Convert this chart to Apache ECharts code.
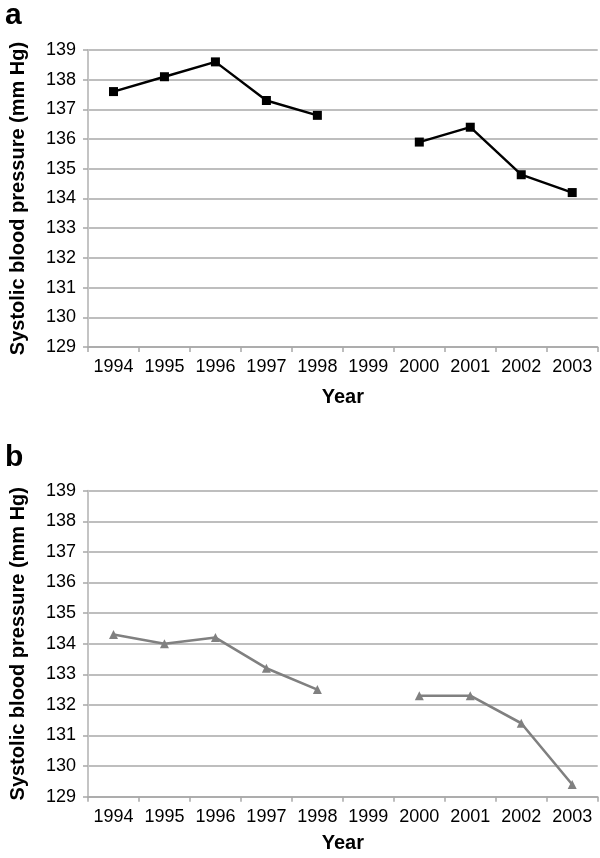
<!DOCTYPE html>
<html>
<head>
<meta charset="utf-8">
<script src="https://cdn.jsdelivr.net/npm/echarts@6/dist/echarts.min.js"></script>
<style>
html,body{margin:0;padding:0;background:#fff;}
#c{width:600px;height:858px;}
</style>
</head>
<body>
<div id="c"></div>
<script>
const years = ['1994','1995','1996','1997','1998','1999','2000','2001','2002','2003'];
const seriesA = [137.6, 138.1, 138.6, 137.3, 136.8, null, 135.9, 136.4, 134.8, 134.2];
const seriesB = [134.3, 134.0, 134.2, 133.2, 132.5, null, 132.3, 132.3, 131.4, 129.4];
const yMin = 129, yMax = 139, yStep = 1;
const yTitle = 'Systolic blood pressure (mm Hg)';
const xTitle = 'Year';
const panelLabels = ['a', 'b'];

const FONT = 'Liberation Sans, Arial, Helvetica, sans-serif';
const chart = echarts.init(document.getElementById('c'), null, {renderer: 'canvas'});

function xAxis(idx, gap) {
  return {
    type: 'category', gridIndex: idx, data: years, boundaryGap: true,
    name: xTitle, nameLocation: 'middle', nameGap: gap,
    nameTextStyle: {fontFamily: FONT, fontWeight: 'bold', fontSize: 20, color: '#000'},
    axisLine: {show: true, lineStyle: {color: '#a8a8a8', width: 1.5}},
    axisTick: {show: true, alignWithLabel: false, length: 5, lineStyle: {color: '#a8a8a8', width: 1.5}},
    axisLabel: {fontFamily: FONT, fontSize: 18, color: '#000', margin: 11, interval: 0},
    splitLine: {show: false}
  };
}
function yAxis(idx) {
  return {
    type: 'value', gridIndex: idx, min: yMin, max: yMax, interval: yStep,
    name: yTitle, nameLocation: 'middle', nameGap: 60, nameRotate: 90,
    nameTextStyle: {fontFamily: FONT, fontWeight: 'bold', fontSize: 20, color: '#000'},
    axisLine: {show: true, lineStyle: {color: '#c4c4c4', width: 2}},
    axisTick: {show: true, length: 5, lineStyle: {color: '#a8a8a8', width: 1.5}},
    axisLabel: {fontFamily: FONT, fontSize: 18, color: '#000', margin: 12},
    splitLine: {show: true, lineStyle: {color: '#a8a8a8', width: 1.5}}
  };
}

chart.setOption({
  backgroundColor: '#fff',
  animation: false,
  title: [
    {text: panelLabels[0], left: 0, top: -4, textStyle: {fontFamily: FONT, fontWeight: 'bold', fontSize: 30, color: '#000'}},
    {text: panelLabels[1], left: 0, top: 438, textStyle: {fontFamily: FONT, fontWeight: 'bold', fontSize: 30, color: '#000'}}
  ],
  grid: [
    {left: 80.7, right: 2.3, top: 50, height: 297, containLabel: false},
    {left: 80.7, right: 2.3, top: 490.7, height: 306, containLabel: false}
  ],
  xAxis: [xAxis(0, 40), xAxis(1, 37)],
  yAxis: [yAxis(0), yAxis(1)],
  series: [
    {type: 'line', xAxisIndex: 0, yAxisIndex: 0, data: seriesA, connectNulls: false,
     symbol: 'rect', symbolSize: 9, itemStyle: {color: '#000'},
     lineStyle: {color: '#000', width: 2.4}},
    {type: 'line', xAxisIndex: 1, yAxisIndex: 1, data: seriesB, connectNulls: false,
     symbol: 'triangle', symbolSize: 9, itemStyle: {color: '#808080'},
     lineStyle: {color: '#808080', width: 2.6}}
  ]
});
</script>
</body>
</html>
